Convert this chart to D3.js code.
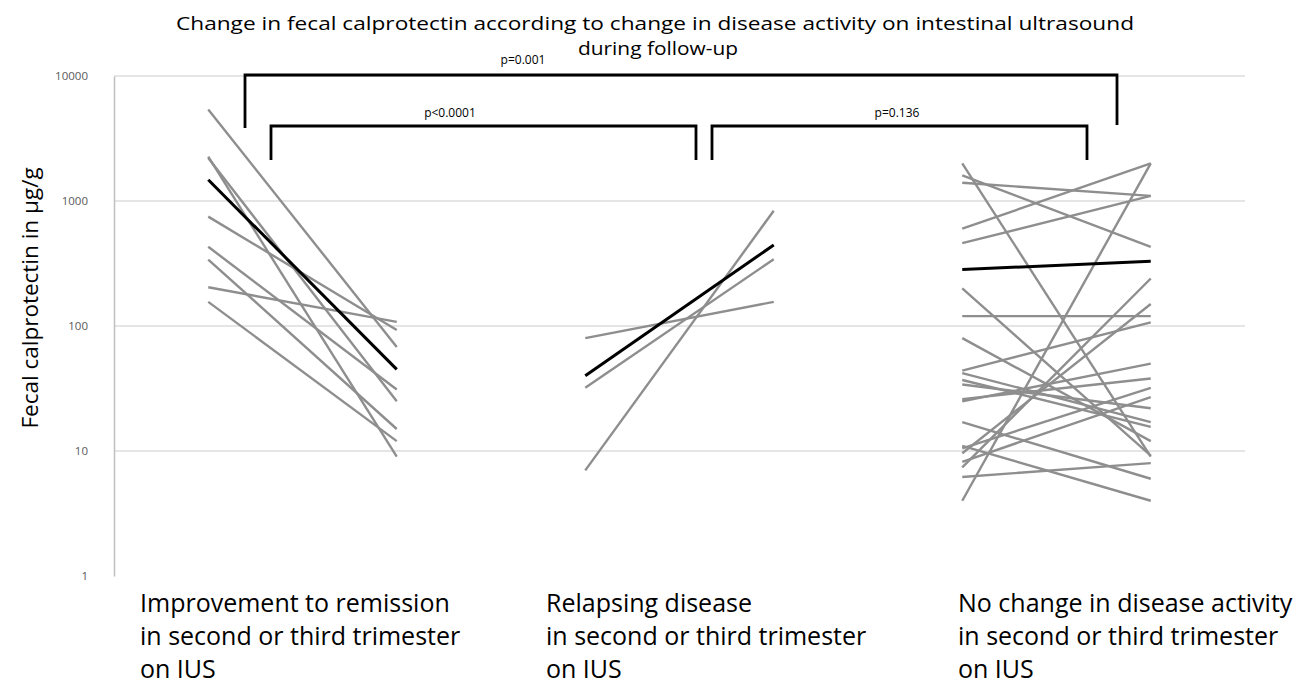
<!DOCTYPE html>
<html>
<head>
<meta charset="utf-8">
<script src="https://cdn.jsdelivr.net/npm/d3@7"></script>
<style>
  body { margin: 0; background: #fff; }
  svg { display: block; font-family: "Open Sans", "Noto Sans", sans-serif; }
</style>
</head>
<body>
<div id="chart"></div>
<script>
// positions on the x axis: before / after for each group
var slots = ["g1a", "g1b", "g2a", "g2b", "g3a", "g3b"];
var groupLabels = [
    ["Improvement to remission", "in second or third trimester", "on IUS"],
    ["Relapsing disease", "in second or third trimester", "on IUS"],
    ["No change in disease activity", "in second or third trimester", "on IUS"]
];
var yTicks = [1, 10, 100, 1000, 10000];

// group 1: improvement to remission
var g1Before = [5400, 2260, 2210, 750, 430, 340, 204, 156];
var g1After  = [68, 9, 25, 93, 31, 15, 108, 12];
var g1Median = [1480, 45];

// group 2: relapsing disease
var g2Before = [80, 32, 7];
var g2After  = [156, 342, 836];
var g2Median = [40, 445];

// group 3: no change
var g3Before = [2000, 1600, 1400, 600, 460, 200, 120, 80, 4, 7.4, 9.6, 44, 42, 37, 34, 26, 25, 17, 11, 10.5, 8.2, 6.2];
var g3After  = [9, 430, 1100, 2000, 1100, 9.2, 120, 12, 2000, 240, 150, 107, 17, 15.6, 22, 38, 50, 6, 4, 32, 27, 8];
var g3Median = [283, 330];

var width = 1313, height = 685;
var svg = d3.select("#chart").append("svg")
    .attr("width", width)
    .attr("height", height);

var x = d3.scalePoint().domain(slots).range([114, 1245]).padding(0.5);
var y = d3.scaleLog().domain([1, 10000]).range([576, 76]);

// gridlines
svg.append("g")
    .selectAll("line")
    .data(yTicks.slice(1))
    .join("line")
    .attr("x1", 114).attr("x2", 1245)
    .attr("y1", function(d){ return y(d); })
    .attr("y2", function(d){ return y(d); })
    .attr("stroke", "#dcdcdc")
    .attr("stroke-width", 1.5);

// y axis
var yAxis = d3.axisLeft(y)
    .tickValues(yTicks)
    .tickFormat(d3.format("d"))
    .tickSize(0)
    .tickPadding(26);
var yg = svg.append("g").attr("transform", "translate(114,0)").call(yAxis);
yg.select(".domain").attr("stroke", "#bfbfbf").attr("stroke-width", 1.5);
yg.selectAll("text").attr("fill", "#595959").style("font-size", "11.5px")
    .style("font-family", "\"Open Sans\", sans-serif");

svg.append("text")
    .attr("transform", "translate(38,298) rotate(-90)")
    .attr("text-anchor", "middle")
    .style("font-size", "22.5px")
    .attr("fill", "#000")
    .text("Fecal calprotectin in \u00b5g/g");

// paired lines
function drawPairs(before, after, a, b, color, w){
    svg.append("g")
        .selectAll("line")
        .data(before.map(function(v, i){ return [v, after[i]]; }))
        .join("line")
        .attr("x1", x(a)).attr("x2", x(b))
        .attr("y1", function(d){ return y(d[0]); })
        .attr("y2", function(d){ return y(d[1]); })
        .attr("stroke", color)
        .attr("stroke-width", w);
}
var grey = "#8e8e8e";
drawPairs(g1Before, g1After, "g1a", "g1b", grey, 2.4);
drawPairs(g2Before, g2After, "g2a", "g2b", grey, 2.4);
drawPairs(g3Before, g3After, "g3a", "g3b", grey, 2.4);
drawPairs([g1Median[0]], [g1Median[1]], "g1a", "g1b", "#000", 3);
drawPairs([g2Median[0]], [g2Median[1]], "g2a", "g2b", "#000", 3);
drawPairs([g3Median[0]], [g3Median[1]], "g3a", "g3b", "#000", 3);

// significance brackets
var brackets = [
    {x1: 245, x2: 1117, top: 75, drop1: 128, drop2: 125, label: "p=0.001", lx: 523, ly: 64},
    {x1: 271, x2: 696, top: 126, drop1: 160, drop2: 160, label: "p<0.0001", lx: 450, ly: 117},
    {x1: 712, x2: 1087, top: 126, drop1: 160, drop2: 160, label: "p=0.136", lx: 897, ly: 117}
];
brackets.forEach(function(br){
    svg.append("path")
        .attr("d", "M" + br.x1 + "," + br.drop1 + "V" + br.top + "H" + br.x2 + "V" + br.drop2)
        .attr("fill", "none")
        .attr("stroke", "#000")
        .attr("stroke-width", 2.8);
    svg.append("text")
        .attr("x", br.lx).attr("y", br.ly)
        .attr("text-anchor", "middle")
        .style("font-size", "12px")
        .text(br.label);
});

// title
var title = ["Change in fecal calprotectin according to change in disease activity on intestinal ultrasound",
             "during follow-up"];
svg.append("text")
    .attr("x", 655).attr("y", 30)
    .attr("text-anchor", "middle")
    .attr("textLength", 958).attr("lengthAdjust", "spacingAndGlyphs")
    .style("font-size", "19px").style("font-weight", 500)
    .text(title[0]);
svg.append("text")
    .attr("x", 658).attr("y", 55)
    .attr("text-anchor", "middle")
    .attr("textLength", 160).attr("lengthAdjust", "spacingAndGlyphs")
    .style("font-size", "19px").style("font-weight", 500)
    .text(title[1]);

// category labels under each group
var labelX = [140, 546, 958];
groupLabels.forEach(function(lines, i){
    var t = svg.append("text")
        .attr("x", labelX[i]).attr("y", 612)
        .style("font-size", "25px")
        .attr("fill", "#000");
    lines.forEach(function(s, j){
        t.append("tspan").attr("x", labelX[i]).attr("dy", j === 0 ? 0 : 33).text(s);
    });
});
</script>
</body>
</html>
